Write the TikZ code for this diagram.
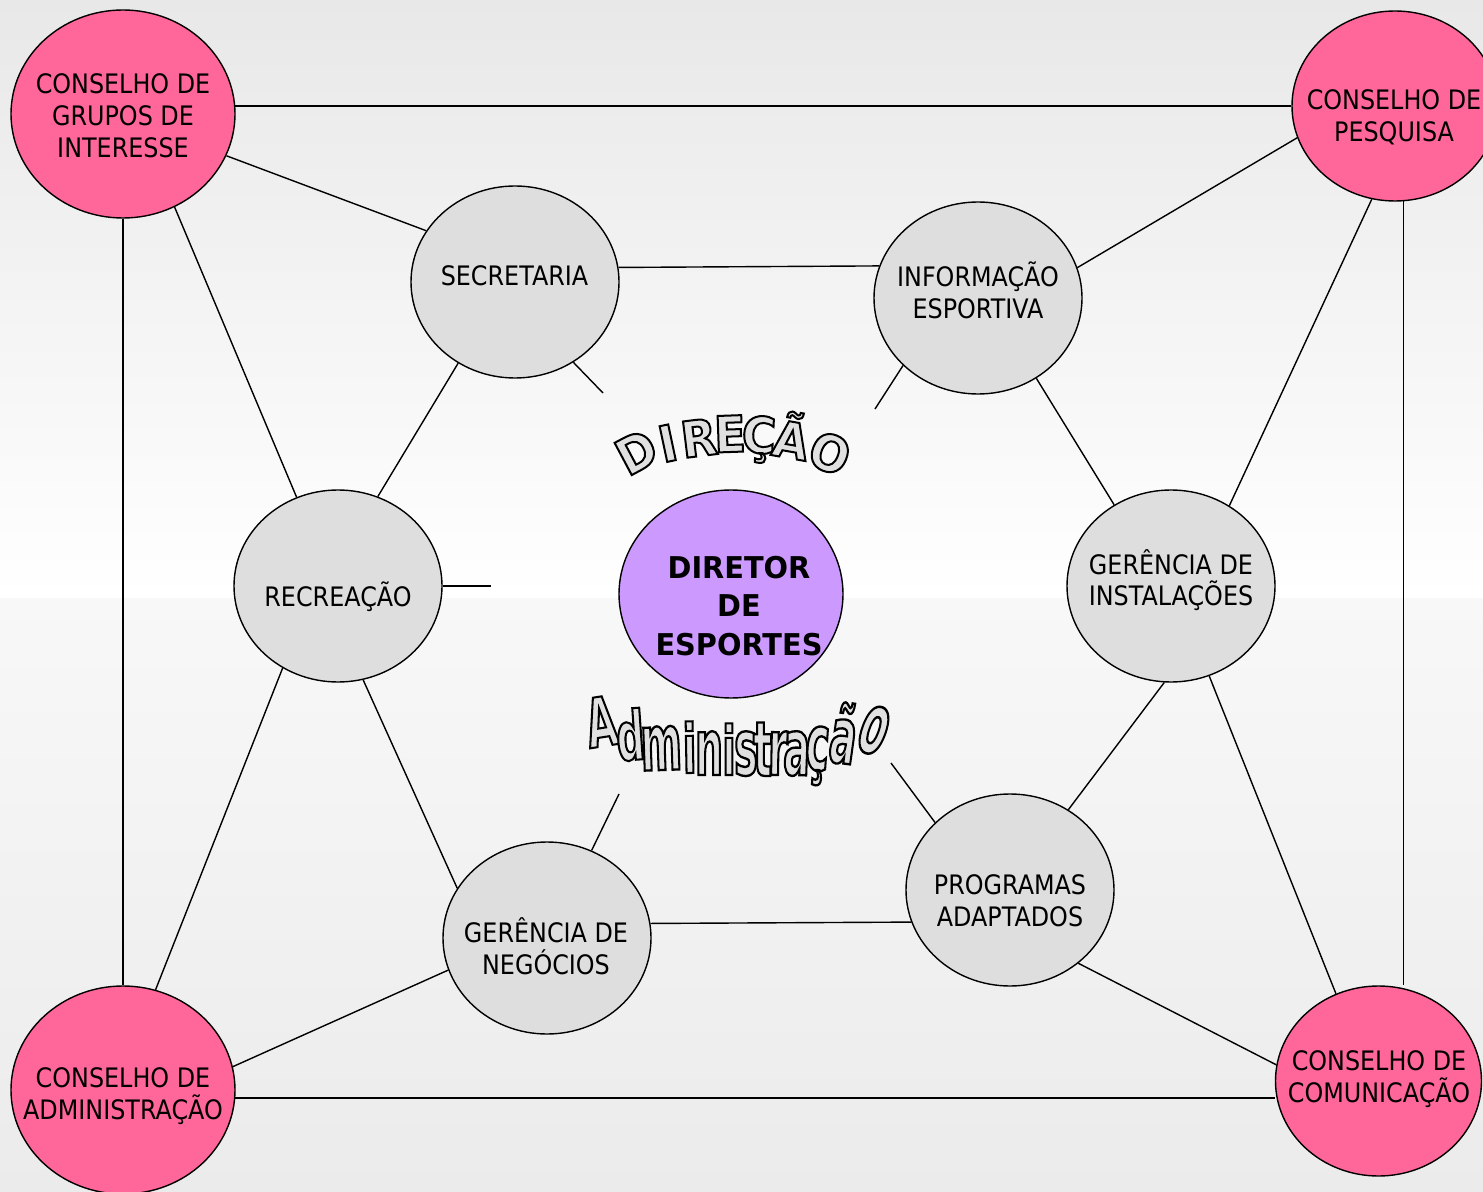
\documentclass[tikz,border=0pt]{standalone}
\usepackage{fontspec}
\setmainfont{DejaVu Sans}[FakeStretch=0.89]
\newfontfamily\headfont{DejaVu Sans}[FakeStretch=0.96]
% outlined lettering: stroked glyphs, fill and stroke colours set separately
\newfontfamily\archfont{DejaVu Sans Bold}[FakeStretch=0.93, FakeBold=4]
\newfontfamily\tallfont{DejaVu Sans Bold}[FakeStretch=0.58, FakeBold=3]
\usetikzlibrary{shapes.geometric}

\definecolor{councilpink}{HTML}{FF6699}
\definecolor{unitgrey}{HTML}{DEDEDE}
\definecolor{headviolet}{HTML}{CC99FF}
\definecolor{bgtop}{HTML}{E8E8E8}
\definecolor{bgmid}{HTML}{F8F8F8}
\definecolor{bgbottom}{HTML}{EBEBEB}

\pgfdeclarelayer{backdrop}
\pgfdeclarelayer{wires}
\pgfsetlayers{backdrop,wires,main}

% centred lines, first baseline is the box baseline
\newcommand\stack[1]{\vtop{\halign{\hfil##\hfil\cr#1\crcr}}}
% light grey fill with a black stroke
\newcommand\olt[1]{\special{pdf:bcolor [0.88] [0]}#1\special{pdf:ecolor}}

\tikzset{
  bubble/.style={ellipse, draw, line width=0.7pt, inner sep=0pt},
  council/.style={bubble, fill=councilpink},
  bigsize/.style={minimum width=112pt, minimum height=104pt},
  smallsize/.style={minimum width=103pt, minimum height=95pt},
  unit/.style={bubble, fill=unitgrey, minimum width=104pt, minimum height=96pt},
  head/.style={bubble, fill=headviolet, minimum width=112pt, minimum height=104pt},
  caption/.style={anchor=base, inner sep=0pt, font=\fontsize{13.4}{16}\selectfont},
  headcaption/.style={anchor=base, inner sep=0pt, font=\headfont\bfseries\fontsize{15}{19.25}\selectfont},
  link/.style={line width=0.7pt},
  arched/.style={anchor=base, inner sep=0pt, font=\archfont\fontsize{25}{25}\selectfont},
  tall/.style={anchor=base, inner sep=0pt, font=\tallfont\fontsize{34}{34}\selectfont},
}

\begin{document}
\begin{tikzpicture}[x=0.5pt,y=-0.5pt]
\useasboundingbox (0,0) rectangle (1483,1192);
\clip (0,0) rectangle (1483,1192);

% backdrop
\begin{pgfonlayer}{backdrop}
  \fill[top color=bgtop, bottom color=white] (0,0) rectangle (1483,598);
  \fill[top color=bgmid, bottom color=bgbottom] (0,598) rectangle (1483,1192);
\end{pgfonlayer}

% councils in the corners
\node[council, bigsize]   (cgi) at (123,114) {};
\node[council, smallsize] (cp)  at (1395,106) {};
\node[council, bigsize]   (ca)  at (123,1090) {};
\node[council, smallsize] (cc)  at (1378.5,1081) {};

% units around the director
\node[unit] (sec)  at (515,282) {};
\node[unit] (info) at (978,298) {};
\node[unit] (rec)  at (338,586) {};
\node[unit] (gi)   at (1171,586) {};
\node[unit] (gn)   at (547,938) {};
\node[unit] (pa)   at (1010,890) {};
\node[head] (dir)  at (731,594) {};

% captions
\node[caption] (cgi-t)  at (123,94)   {\stack{CONSELHO DE\cr GRUPOS DE\cr INTERESSE}};
\node[caption] (cp-t)   at (1394,110) {\stack{CONSELHO DE\cr PESQUISA}};
\node[caption] (ca-t)   at (123,1087) {\stack{CONSELHO DE\cr ADMINISTRAÇÃO}};
\node[caption] (cc-t)   at (1379,1070) {\stack{CONSELHO DE\cr COMUNICAÇÃO}};
\node[caption] (sec-t)  at (514.5,286) {SECRETARIA};
\node[caption] (info-t) at (978,287)  {\stack{INFORMAÇÃO\cr ESPORTIVA}};
\node[caption] (rec-t)  at (338,606)  {RECREAÇÃO};
\node[caption] (gi-t)   at (1171,574) {\stack{GERÊNCIA DE\cr INSTALAÇÕES}};
\node[caption] (gn-t)   at (546,942)  {\stack{GERÊNCIA DE\cr NEGÓCIOS}};
\node[caption] (pa-t)   at (1010,894) {\stack{PROGRAMAS\cr ADAPTADOS}};
\node[headcaption] (dir-t) at (739,578) {\stack{DIRETOR\cr DE\cr ESPORTES}};

% loose ends of the spokes towards the centre
\coordinate (sec-end)  at (603,393);
\coordinate (info-end) at (875,409);
\coordinate (rec-end)  at (491,586);
\coordinate (gn-end)   at (619,794);
\coordinate (pa-end)   at (891,763);

\begin{pgfonlayer}{wires}
  % outer frame between the councils
  \draw[link] (cgi.4.6) -- (cgi.4.6 -| cp.west);
  \draw[link] (cgi.south) -- (ca.north);
  \draw[link] (ca.-4.1) -- (ca.-4.1 -| cc.west);
  \draw[link] (cp.-85.8) -- (cp.-85.8 |- cc.north);
  % councils to units
  \draw[link] (cgi.-22.9) -- (sec.150.9);
  \draw[link] (cgi.-61.2) -- (rec.115.7);
  \draw[link] (cp.-162.7) -- (info.17.4);
  \draw[link] (cp.-104.5) -- (gi.54.9);
  \draw[link] (ca.72.9) -- (rec.-124.2);
  \draw[link] (ca.12.6) -- (gn.-162.9);
  \draw[link] (cc.116.6) -- (gi.-67.4);
  \draw[link] (cc.171.2) -- (pa.-47.6);
  % ring of units
  \draw[link] (sec.8.75) -- (info.162.9);
  \draw[link] (sec.-125.1) -- (rec.66.9);
  \draw[link] (info.-54.1) -- (gi.125.6);
  \draw[link] (gi.-94.8) -- (pa.54.1);
  \draw[link] (rec.-75.4) -- (gn.151.4);
  \draw[link] (gn.8.75) -- (pa.-162.9);
  % spokes
  \draw[link] (sec.-54.9) -- (sec-end);
  \draw[link] (info.-138.4) -- (info-end);
  \draw[link] (rec.east) -- (rec-end);
  \draw[link] (gn.63.7) -- (gn-end);
  \draw[link] (pa.138.4) -- (pa-end);
\end{pgfonlayer}

% arched title above the director
\node[arched, rotate=28]  (ttl-1) at (645,468)   {\olt{D}};
\node[arched, rotate=12]  (ttl-2) at (671.5,461) {\olt{I}};
\node[arched, rotate=7]   (ttl-3) at (701,456)   {\olt{R}};
\node[arched, rotate=2]   (ttl-4) at (730.5,452) {\olt{E}};
\node[arched, rotate=-3]  (ttl-5) at (758,453)   {\olt{Ç}};
\node[arched, rotate=-10] (ttl-6) at (788,458)   {\olt{Ã}};
\node[arched, rotate=-22] (ttl-7) at (823,470)   {\olt{O}};

% sagging title below the director
\node[tall, rotate=9]                (adm-1)  at (605,746)   {\olt{A}};
\node[tall, rotate=4]                (adm-2)  at (632,760)   {\olt{d}};
\node[tall, rotate=2, yscale=1.15]   (adm-3)  at (662,770)   {\olt{m}};
\node[tall, rotate=1]                (adm-4)  at (690,773)   {\olt{i}};
\node[tall, yscale=1.15]             (adm-5)  at (709,775)   {\olt{n}};
\node[tall]                          (adm-6)  at (729,775)   {\olt{i}};
\node[tall, yscale=1.15]             (adm-7)  at (746,775)   {\olt{s}};
\node[tall, yscale=1.12]             (adm-8)  at (762.5,776) {\olt{t}};
\node[tall, rotate=-1, yscale=1.15]  (adm-9)  at (777.5,775) {\olt{r}};
\node[tall, rotate=-2, yscale=1.15]  (adm-10) at (796,775)   {\olt{a}};
\node[tall, rotate=-4, yscale=1.15]  (adm-11) at (816,770)   {\olt{ç}};
\node[tall, rotate=-8, yscale=1.15]  (adm-12) at (840,763)   {\olt{ã}};
\node[tall, rotate=-20, yscale=1.25] (adm-13) at (866,752)   {\olt{o}};

\end{tikzpicture}
\end{document}
